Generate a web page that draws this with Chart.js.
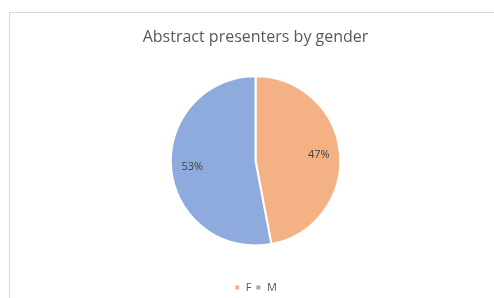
<!DOCTYPE html>
<html>
<head>
<meta charset="utf-8">
<script src="https://cdn.jsdelivr.net/npm/chart.js@4.4.0/dist/chart.umd.min.js"></script>
<style>
    html, body { margin: 0; padding: 0; background: #ffffff; overflow: hidden; }
    #moldura {
        position: absolute; left: 9px; top: 12px;
        width: 520px; height: 320px;
        border: 1px solid #d9d9d9; box-sizing: border-box;
    }
    #grafico { position: absolute; left: 0; top: 0; }
</style>
</head>
<body>
<div id="moldura"></div>
<canvas id="grafico" width="494" height="303"></canvas>
<script>
const categorias = ['F', 'M'];
const percentuais = [47, 53];
const cores = ['#F4B183', '#8FAADC'];

// escreve o % dentro de cada fatia
const rotulosPlugin = {
    id: 'rotulos',
    afterDatasetsDraw(chart) {
        const ctx = chart.ctx;
        const meta = chart.getDatasetMeta(0);
        ctx.save();
        ctx.font = '11px "Open Sans", sans-serif';
        ctx.fillStyle = '#404040';
        ctx.textAlign = 'center';
        ctx.textBaseline = 'middle';
        meta.data.forEach((arco, i) => {
            const p = arco.getProps(['x', 'y', 'startAngle', 'endAngle', 'outerRadius'], true);
            const meio = (p.startAngle + p.endAngle) / 2;
            const r = p.outerRadius * 0.75;
            ctx.fillText(percentuais[i] + '%', p.x + Math.cos(meio) * r, p.y + Math.sin(meio) * r);
        });
        ctx.restore();
    }
};

new Chart(document.getElementById('grafico'), {
    type: 'pie',
    data: {
        labels: categorias,
        datasets: [{
            data: percentuais,
            backgroundColor: cores,
            borderColor: '#ffffff',
            borderWidth: 2
        }]
    },
    options: {
        responsive: false,
        animation: false,
        layout: { padding: { left: 17, right: 0, top: 0, bottom: 0 } },
        plugins: {
            title: {
                display: true,
                text: 'Abstract presenters by gender',
                color: '#595959',
                font: { family: '"Open Sans", sans-serif', size: 16, weight: 'normal' },
                padding: { top: 28, bottom: 28 }
            },
            legend: {
                position: 'bottom',
                title: { display: true, text: '', padding: { top: 0, bottom: 17 } },
                labels: {
                    boxWidth: 6, boxHeight: 6, padding: 4,
                    color: '#595959',
                    font: { family: '"Open Sans", sans-serif', size: 11 }
                }
            },
            tooltip: { enabled: false }
        }
    },
    plugins: [rotulosPlugin]
});
</script>
</body>
</html>
